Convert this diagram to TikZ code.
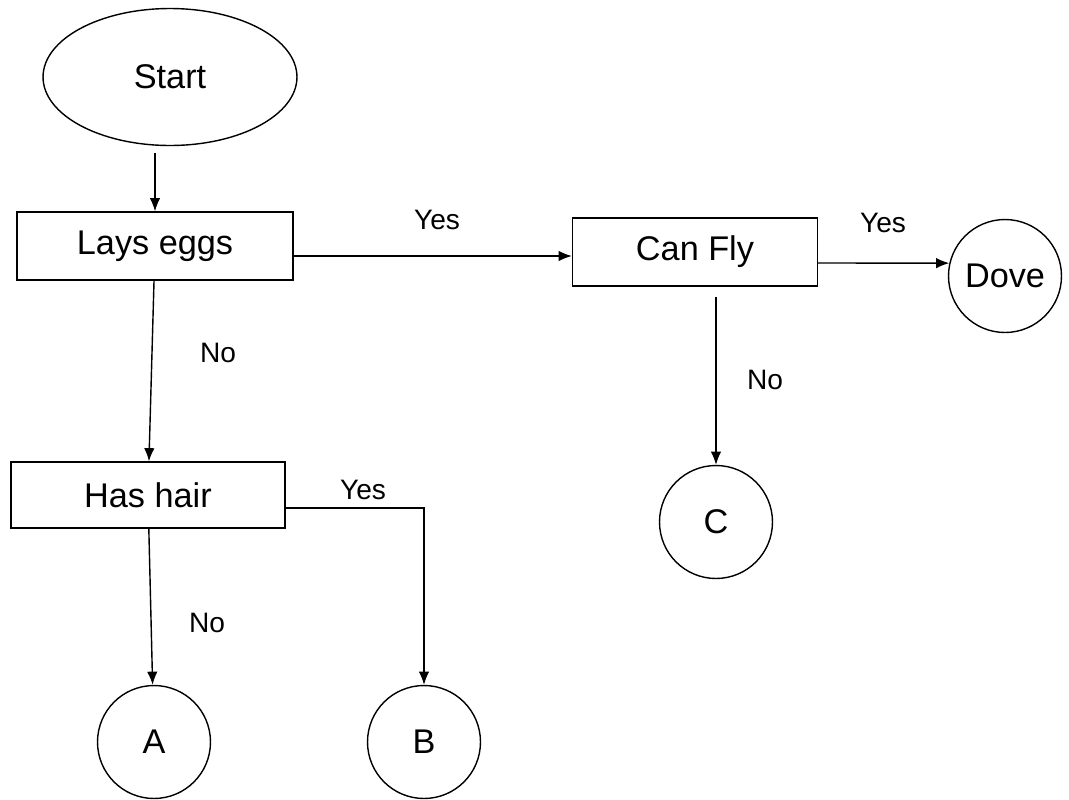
\documentclass[tikz,border=0pt]{standalone}
\usepackage{fontspec}
\setmainfont{Liberation Sans}
\usetikzlibrary{shapes.geometric,arrows.meta}

\begin{document}
\begin{tikzpicture}[x=0.02cm, y=-0.02cm,
  every node/.style={font=\fontsize{19.5}{23}\selectfont},
  box/.style={draw, line width=0.8pt, rectangle, minimum height=1.36cm, inner sep=0pt},
  endpt/.style={draw, line width=0.8pt, circle, minimum size=2.26cm, inner sep=0pt},
  lbl/.style={font=\fontsize{16}{19}\selectfont},
  arr/.style={line width=0.8pt, -{Latex[length=7.5pt,width=6pt]}}]

\useasboundingbox (0,0) rectangle (1069,799);

\node[draw, line width=0.8pt, ellipse, minimum width=5.08cm, minimum height=2.74cm] (start) at (170,77) {Start};

\node[box, minimum width=5.52cm] (lays) at (155,246) {Lays eggs};
\node[box, minimum width=4.9cm] (canfly) at (695,252) {Can Fly};
\node[box, minimum width=5.48cm, minimum height=1.32cm] (hashair) at (148,495) {Has hair};

\node[endpt] (dove) at (1005,276) {Dove};
\node[endpt] (c) at (716,522) {C};
\node[endpt] (a) at (154,742) {A};
\node[endpt] (b) at (424,742) {B};

\draw[arr] ([yshift=-0.14cm]lays.north |- start.south) to (lays.north);
\draw[arr] ([yshift=-0.2cm]lays.east) to ([yshift=-0.2cm]lays.east -| canfly.west);
\draw[arr] ([yshift=-0.22cm]canfly.east) to (dove.167);
\draw[arr] ([yshift=-0.2cm]c.north |- canfly.south) to (c.north);
\draw[arr] (lays) to (hashair);
\draw[arr] (hashair) to (a);
\draw[arr] ([yshift=-0.26cm]hashair.east) -| (b.north);

\node[lbl] at (437,220) {Yes};
\node[lbl] at (883,223) {Yes};
\node[lbl] at (765,380) {No};
\node[lbl] at (218,353) {No};
\node[lbl] at (207,623) {No};
\node[lbl] at (363,490) {Yes};

\end{tikzpicture}
\end{document}
